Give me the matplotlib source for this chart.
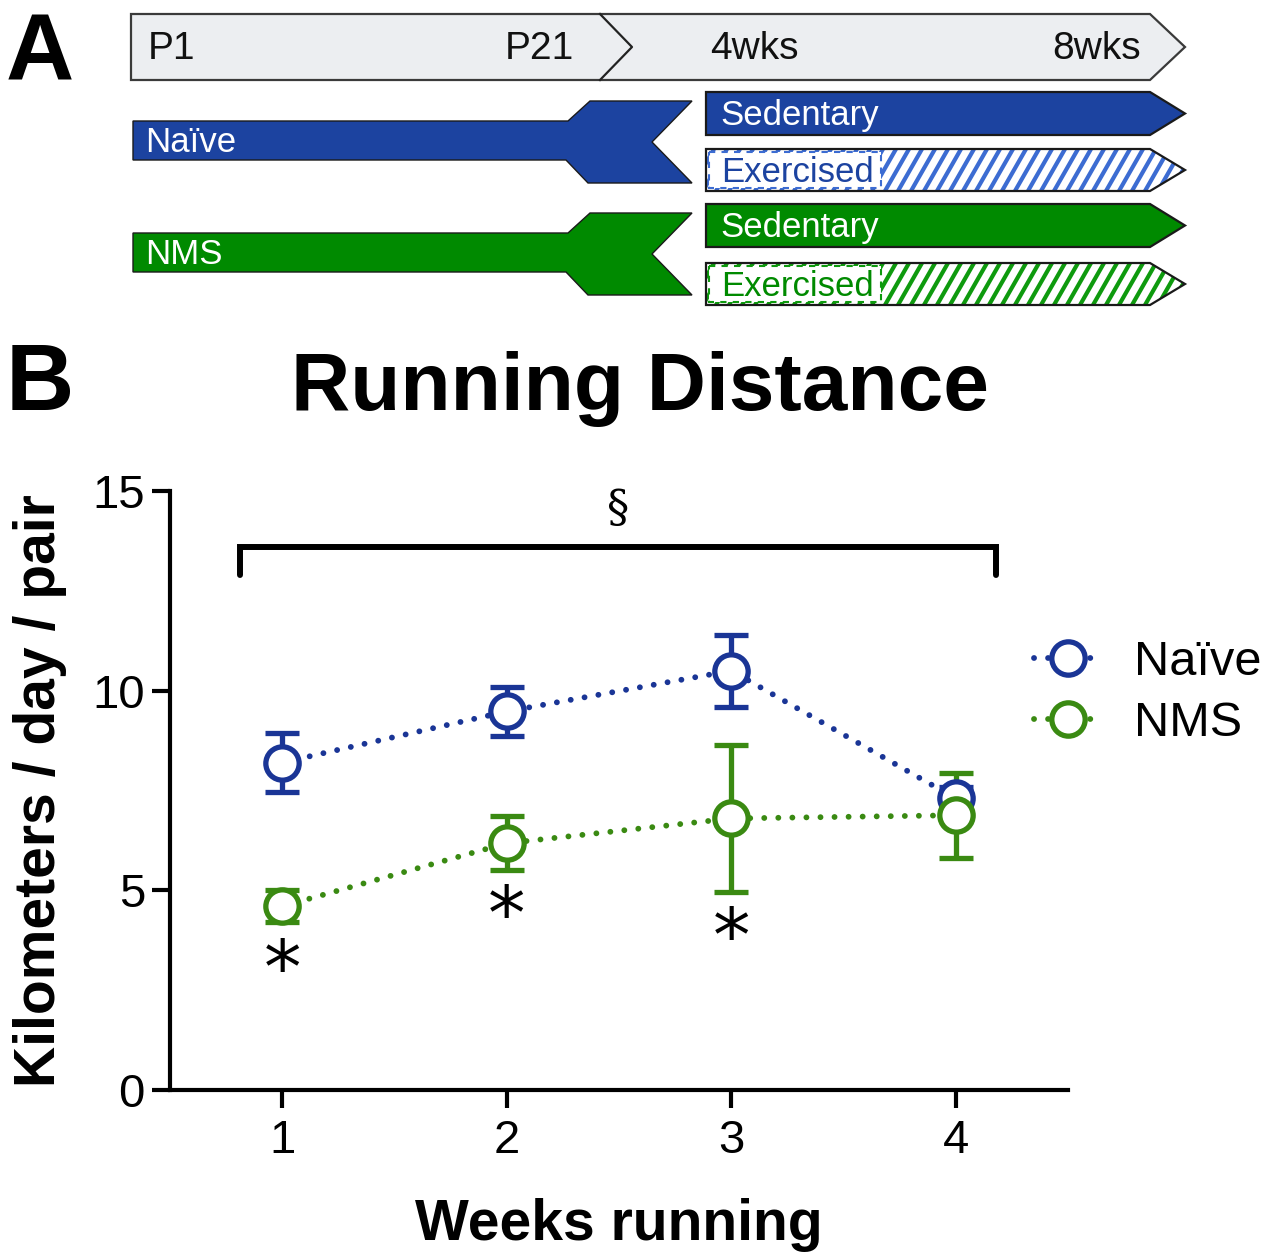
import matplotlib
matplotlib.use("Agg")
import numpy as np
import matplotlib.pyplot as plt
from matplotlib.patches import Polygon, Rectangle
from matplotlib.lines import Line2D

plt.rcParams['font.family'] = ['Liberation Sans', 'DejaVu Sans']

# ---------------- data ----------------
weeks = [1, 2, 3, 4]
naive_mean = [8.2, 9.48, 10.5, 7.3]
naive_sem = [0.75, 0.62, 0.9, 0.3]
nms_mean = [4.6, 6.18, 6.8, 6.88]
nms_sem = [0.4, 0.67, 1.83, 1.07]
star_weeks = [1, 2, 3]
star_y = [2.95, 4.3, 3.75]
series_labels = ['Naïve', 'NMS']
yticks = [0, 5, 10, 15]
bracket_x = [0.81, 4.18]
bracket_y = [13.6, 12.9]
timeline_labels = ['P1', 'P21', '4wks', '8wks']

BLUE = '#1a3596'
GREEN = '#3a8a12'
DBLUE = '#1c43a0'
DGREEN = '#008a00'

fig = plt.figure(figsize=(12.77, 12.6), dpi=100)

# ---------- overlay for panel A diagram ----------
ov = fig.add_axes([0, 0, 1, 1])
ov.set_xlim(0, 1277)
ov.set_ylim(1260, 0)
ov.axis('off')

# timeline arrow
ov.add_patch(Polygon([(131, 14), (1150, 14), (1185, 47), (1150, 80), (131, 80)],
                     closed=True, fc='#eceef1', ec='#3a3a3a', lw=1.6))
ov.plot([600, 632, 600], [14, 47, 80], color='#222222', lw=1.6)
for lbl, x in zip(timeline_labels, [148, 505, 710, 1052]):
    ov.text(x, 49, lbl, fontsize=28, va='center', ha='left', color='#111111')

def fork(dy, color, label):
    pts = [(133, 121), (568, 121), (590, 101), (692, 101), (652, 142),
           (692, 183), (588, 183), (566, 160), (133, 160)]
    pts = [(x, y + dy) for x, y in pts]
    ov.add_patch(Polygon(pts, closed=True, fc=color, ec='#1a1a1a', lw=1.0))
    ov.text(145, 143 + dy, label, fontsize=25, color='white', va='center', ha='left')

def arrow(y0, y1, color, label, hatched, stripe=None):
    ym = (y0 + y1) / 2
    pts = [(706, y0), (1150, y0), (1185, ym), (1150, y1), (706, y1)]
    if hatched:
        base = Polygon(pts, closed=True, fc='white', ec='none', lw=0, zorder=1)
        ov.add_patch(base)
        for x0 in np.arange(690, 1200, 13):
            ln, = ov.plot([x0, x0 + 24], [y1, y0], color=stripe, lw=3.0,
                          solid_capstyle='butt', zorder=1.5)
            ln.set_clip_path(base)
        ov.add_patch(Rectangle((709, y0 + 3), 172, (y1 - y0) - 6, fc='white', ec=stripe,
                               lw=1.5, ls=(0, (3, 3)), zorder=2))
        ov.add_patch(Polygon(pts, closed=True, fc='none', ec='#1a1a1a', lw=1.6, zorder=2.5))
        ov.text(721, ym + 2, label, fontsize=25, color=color, va='center', ha='left',
                zorder=3)
    else:
        ov.add_patch(Polygon(pts, closed=True, fc=color, ec='#1a1a1a', lw=1.6))
        ov.text(720, ym + 2, label, fontsize=25, color='white', va='center', ha='left')

fork(0, DBLUE, 'Naïve')
fork(112, DGREEN, 'NMS')
arrow(92, 135, DBLUE, 'Sedentary', False)
arrow(149, 191, DBLUE, 'Exercised', True, stripe='#3c6cd2')
arrow(204, 247, DGREEN, 'Sedentary', False)
arrow(263, 305, DGREEN, 'Exercised', True, stripe='#0e9a0e')

ov.text(6, 80, 'A', fontsize=68, fontweight='bold', va='baseline', ha='left')
ov.text(6, 410, 'B', fontsize=68, fontweight='bold', va='baseline', ha='left')
ov.text(640, 410, 'Running Distance', fontsize=59, fontweight='bold',
        va='baseline', ha='center')

# ---------- panel B ----------
ax = fig.add_axes([170 / 1277, 1 - 1090 / 1260, 898 / 1277, 599 / 1260])
ax.set_xlim(0.5, 4.5)
ax.set_ylim(0, 15)

dot = (0, (0.01, 2.4))
MS = 24
for means, sems, col in [(naive_mean, naive_sem, BLUE), (nms_mean, nms_sem, GREEN)]:
    ax.plot(weeks, means, color=col, lw=4.2, ls=dot, dash_capstyle='round', zorder=2)
    ax.errorbar(weeks, means, yerr=sems, fmt='none', ecolor=col, elinewidth=3.8,
                capsize=12, capthick=3.8, zorder=3)
    ax.plot(weeks, means, ls='none', marker='o', ms=MS, mfc='white', mec=col,
            mew=3.8, zorder=4)

for w, y in zip(star_weeks, star_y):
    ax.text(w, y, '*', fontsize=54, ha='center', va='center', family='DejaVu Sans')

ax.plot([bracket_x[0], bracket_x[0], bracket_x[1], bracket_x[1]],
        [bracket_y[1], bracket_y[0], bracket_y[0], bracket_y[1]],
        color='black', lw=4.3, solid_capstyle='round', solid_joinstyle='miter',
        clip_on=False)
ax.text(sum(bracket_x) / 2, 14.55, '§', fontsize=32, ha='center', va='center',
        family='DejaVu Serif')

for s in ['top', 'right']:
    ax.spines[s].set_visible(False)
for s in ['left', 'bottom']:
    ax.spines[s].set_linewidth(3)
ax.set_xticks(weeks)
ax.set_yticks(yticks)
ax.tick_params(axis='both', length=13, width=3, labelsize=34, direction='out')
ax.tick_params(axis='y', pad=5)
ax.tick_params(axis='x', pad=8)
ax.set_xlabel('Weeks running', fontsize=41, fontweight='bold')
ax.set_ylabel('Kilometers / day / pair', fontsize=41, fontweight='bold')
ax.yaxis.set_label_coords(-0.115, 0.5)
ax.xaxis.set_label_coords(0.5, -0.18)

handles = [Line2D([], [], color=BLUE, lw=4.2, ls=dot, dash_capstyle='round', marker='o',
                  ms=MS, mfc='white', mec=BLUE, mew=3.8),
           Line2D([], [], color=GREEN, lw=4.2, ls=dot, dash_capstyle='round', marker='o',
                  ms=MS, mfc='white', mec=GREEN, mew=3.8)]
leg = fig.legend(handles, series_labels, loc='upper left',
                 bbox_to_anchor=(1034 / 1277, 1 - 640 / 1260), frameon=False,
                 fontsize=35, handlelength=1.4, handletextpad=0.65, labelspacing=0.33,
                 borderaxespad=0, borderpad=0)

fig.savefig('out.png', dpi=100)
